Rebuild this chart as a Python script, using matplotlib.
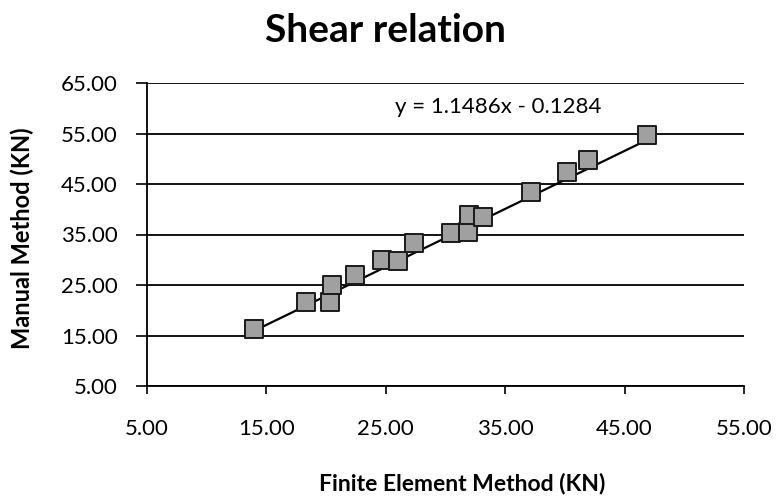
import matplotlib
matplotlib.use("Agg")
import matplotlib.pyplot as plt
import numpy as np

# Shear force from the finite element model vs. the manual calculation (kN)
fem_kn = [14.0, 18.3, 20.3, 20.5, 22.4, 24.7, 26.0, 27.4, 30.5, 31.9, 32.0, 33.1, 37.2, 40.2, 41.9, 46.9]
manual_kn = [16.3, 21.6, 21.6, 25.0, 27.0, 30.0, 29.8, 33.3, 35.3, 35.5, 38.9, 38.4, 43.4, 47.4, 49.7, 54.7]

# Linear trendline coefficients
slope = 1.1486
intercept = -0.1284

x_ticks = [5, 15, 25, 35, 45, 55]
y_ticks = [5, 15, 25, 35, 45, 55, 65]

plt.rcParams['font.family'] = ['Lato', 'DejaVu Sans']

fig = plt.figure(figsize=(7.77, 4.99), dpi=100)
ax = fig.add_axes([147 / 777, 1 - 386 / 499, (744 - 147) / 777, (386 - 83) / 499])

ax.set_xlim(5, 55)
ax.set_ylim(5, 65)
ax.set_xticks(x_ticks)
ax.set_yticks(y_ticks)
ax.set_xticklabels([f"{v:.2f}" for v in x_ticks], fontsize=16)
ax.set_yticklabels([f"{v:.2f}" for v in y_ticks], fontsize=16)

ax.grid(axis='y', color='black', linewidth=1.3)
ax.set_axisbelow(True)
for side in ('top', 'right'):
    ax.spines[side].set_visible(False)
for side in ('left', 'bottom'):
    ax.spines[side].set_linewidth(1.3)
ax.tick_params(axis='x', direction='out', length=6, width=1.2, pad=18)
ax.tick_params(axis='y', direction='out', length=8, width=1.2, pad=13)

# trendline spanning the data
xs = np.array([min(fem_kn), max(fem_kn)])
ax.plot(xs, slope * xs + intercept, color='black', linewidth=1.6, zorder=3)

ax.scatter(fem_kn, manual_kn, marker='s', s=160, facecolor='#a0a0a0',
           edgecolor='#1a1a1a', linewidth=1.4, zorder=4)

fig.text(498 / 777, 1 - 107 / 499, f"y = {slope:.4f}x - {abs(intercept):.4f}",
         ha='center', va='center', fontsize=16)

fig.text(385 / 777, 1 - 30 / 499, "Shear relation", ha='center', va='center',
         fontsize=28, fontweight='bold')
fig.text(22 / 777, 1 - 238 / 499, "Manual Method (KN)", ha='center', va='center',
         rotation=90, fontsize=17, fontweight='bold')
fig.text(462 / 777, 1 - 483 / 499, "Finite Element Method (KN)", ha='center',
         va='center', fontsize=16.5, fontweight='bold')

fig.savefig("out.png", dpi=100)
